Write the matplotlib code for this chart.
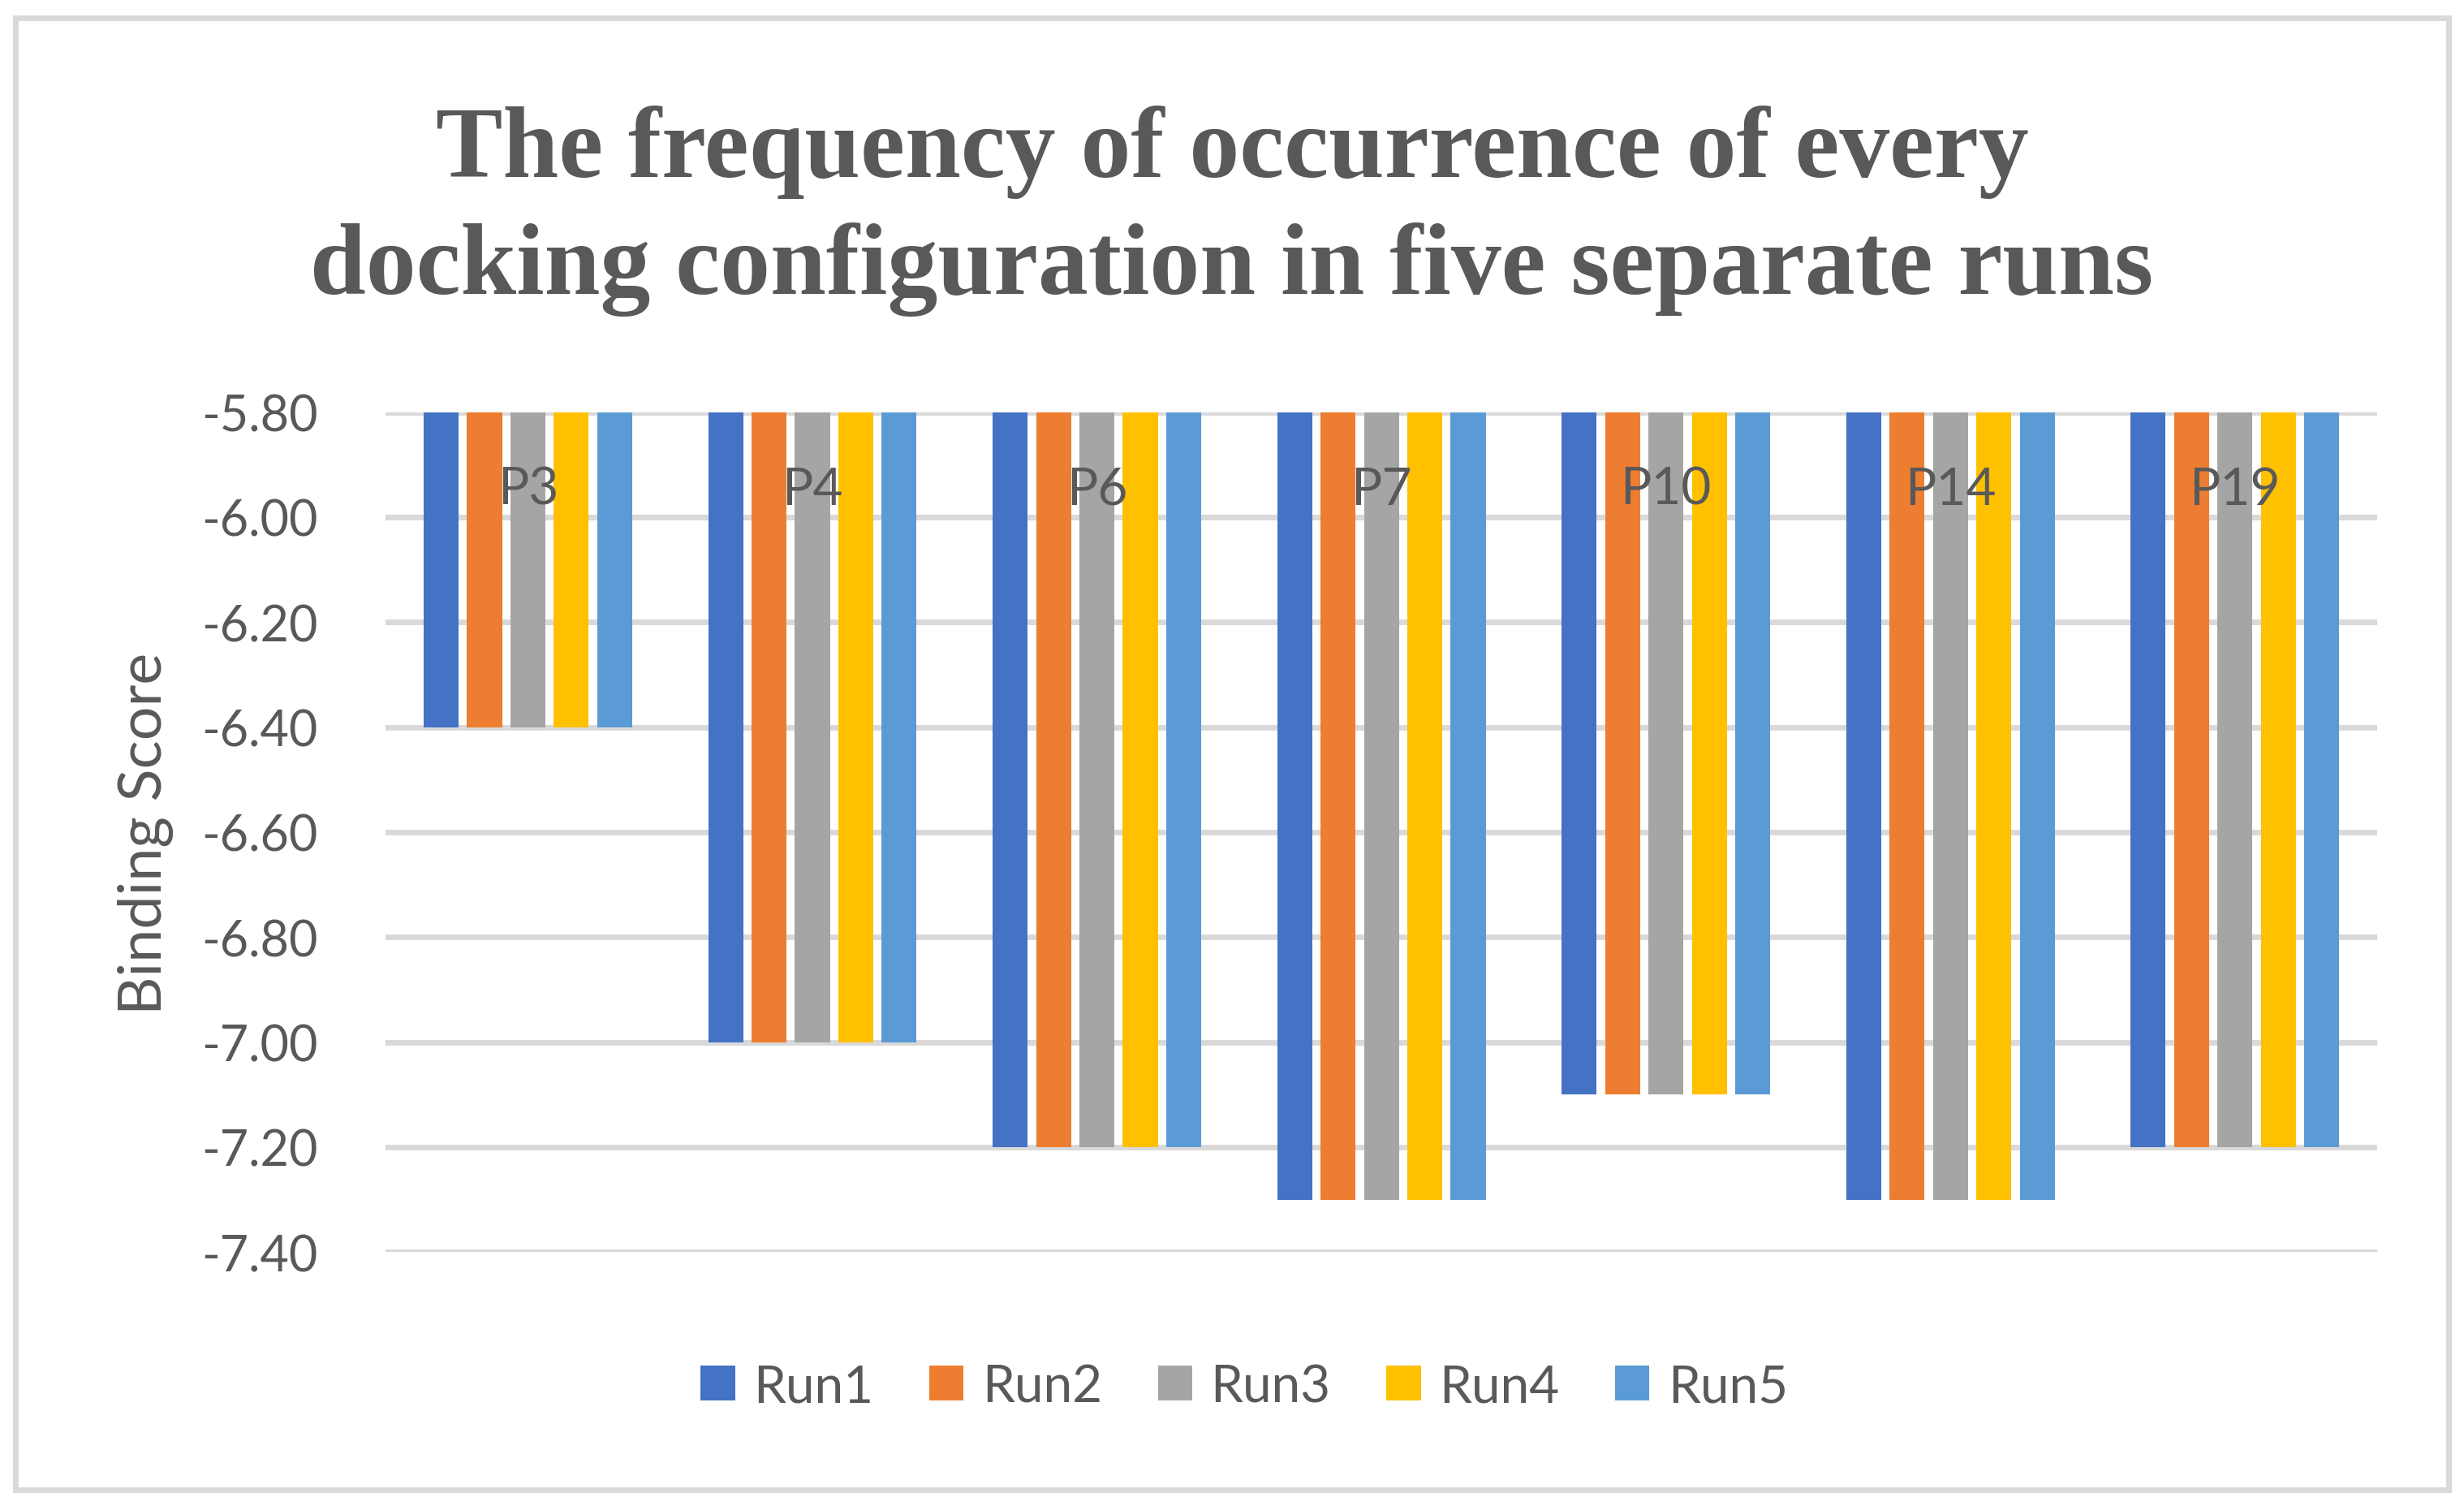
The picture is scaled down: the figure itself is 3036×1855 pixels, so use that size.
import numpy as np
import matplotlib
matplotlib.use("Agg")
import matplotlib.pyplot as plt
from matplotlib.patches import Rectangle

# data
categories = ["P3", "P4", "P6", "P7", "P10", "P14", "P19"]
runs = ["Run1", "Run2", "Run3", "Run4", "Run5"]
run1 = [-6.40, -7.00, -7.20, -7.30, -7.10, -7.30, -7.20]
run2 = [-6.40, -7.00, -7.20, -7.30, -7.10, -7.30, -7.20]
run3 = [-6.40, -7.00, -7.20, -7.30, -7.10, -7.30, -7.20]
run4 = [-6.40, -7.00, -7.20, -7.30, -7.10, -7.30, -7.20]
run5 = [-6.40, -7.00, -7.20, -7.30, -7.10, -7.30, -7.20]
yticks = [-5.80, -6.00, -6.20, -6.40, -6.60, -6.80, -7.00, -7.20, -7.40]

colors = ["#4472C4", "#ED7D31", "#A5A5A5", "#FFC000", "#5B9BD5"]
text_col = "#595959"
grid_col = "#D9D9D9"
base = -5.80

plt.rcParams["font.family"] = ["Lato", "DejaVu Sans"]

fig = plt.figure(figsize=(15.18, 9.28), dpi=200)
ax = fig.add_axes([0.1565, 0.1685, 0.8083, 0.5575])

x = np.arange(len(categories))
slot = 0.1525
width = 0.123
series = [run1, run2, run3, run4, run5]
for i, (vals, name) in enumerate(zip(series, runs)):
    offs = (i - 2) * slot
    heights = [v - base for v in vals]
    ax.bar(x + offs, heights, width, bottom=base, color=colors[i], label=name, zorder=3)

ax.set_xlim(-0.5, len(categories) - 0.5)
ax.set_ylim(-7.40, -5.80)
ax.set_yticks(yticks)
ax.set_yticklabels([f"{t:.2f}" for t in yticks])
ax.tick_params(axis="y", length=0, pad=30, labelsize=22, labelcolor=text_col)
ax.set_xticks([])
ax.grid(axis="y", color=grid_col, linewidth=2.5, zorder=0)
for s in ax.spines.values():
    s.set_visible(False)

# category labels sit just under the top axis line
for xi, c in zip(x, categories):
    ax.text(xi, -5.947, c, ha="center", va="center", fontsize=23, color=text_col, zorder=4)

fig.text(0.059, 0.4465, "Binding Score", rotation=90, ha="center", va="center",
         fontsize=26.5, color=text_col)

fig.text(0.5, 0.899, "The frequency of occurrence of every", ha="center", va="center",
         fontsize=44.5, fontweight="bold", color=text_col, family="Liberation Serif")
fig.text(0.5, 0.821, "docking configuration in five separate runs", ha="center", va="center",
         fontsize=44.5, fontweight="bold", color=text_col, family="Liberation Serif")

leg = fig.legend(loc="center", bbox_to_anchor=(0.505, 0.079), ncol=5, frameon=False,
                 fontsize=23, handlelength=0.66, handleheight=0.66, handletextpad=0.35,
                 columnspacing=1.08, labelcolor=text_col)

fig.patches.append(Rectangle((0.0064, 0.011), 0.9875, 0.9765, transform=fig.transFigure,
                             fill=False, edgecolor=grid_col, linewidth=2.5))

fig.savefig("out.png", dpi=200)
